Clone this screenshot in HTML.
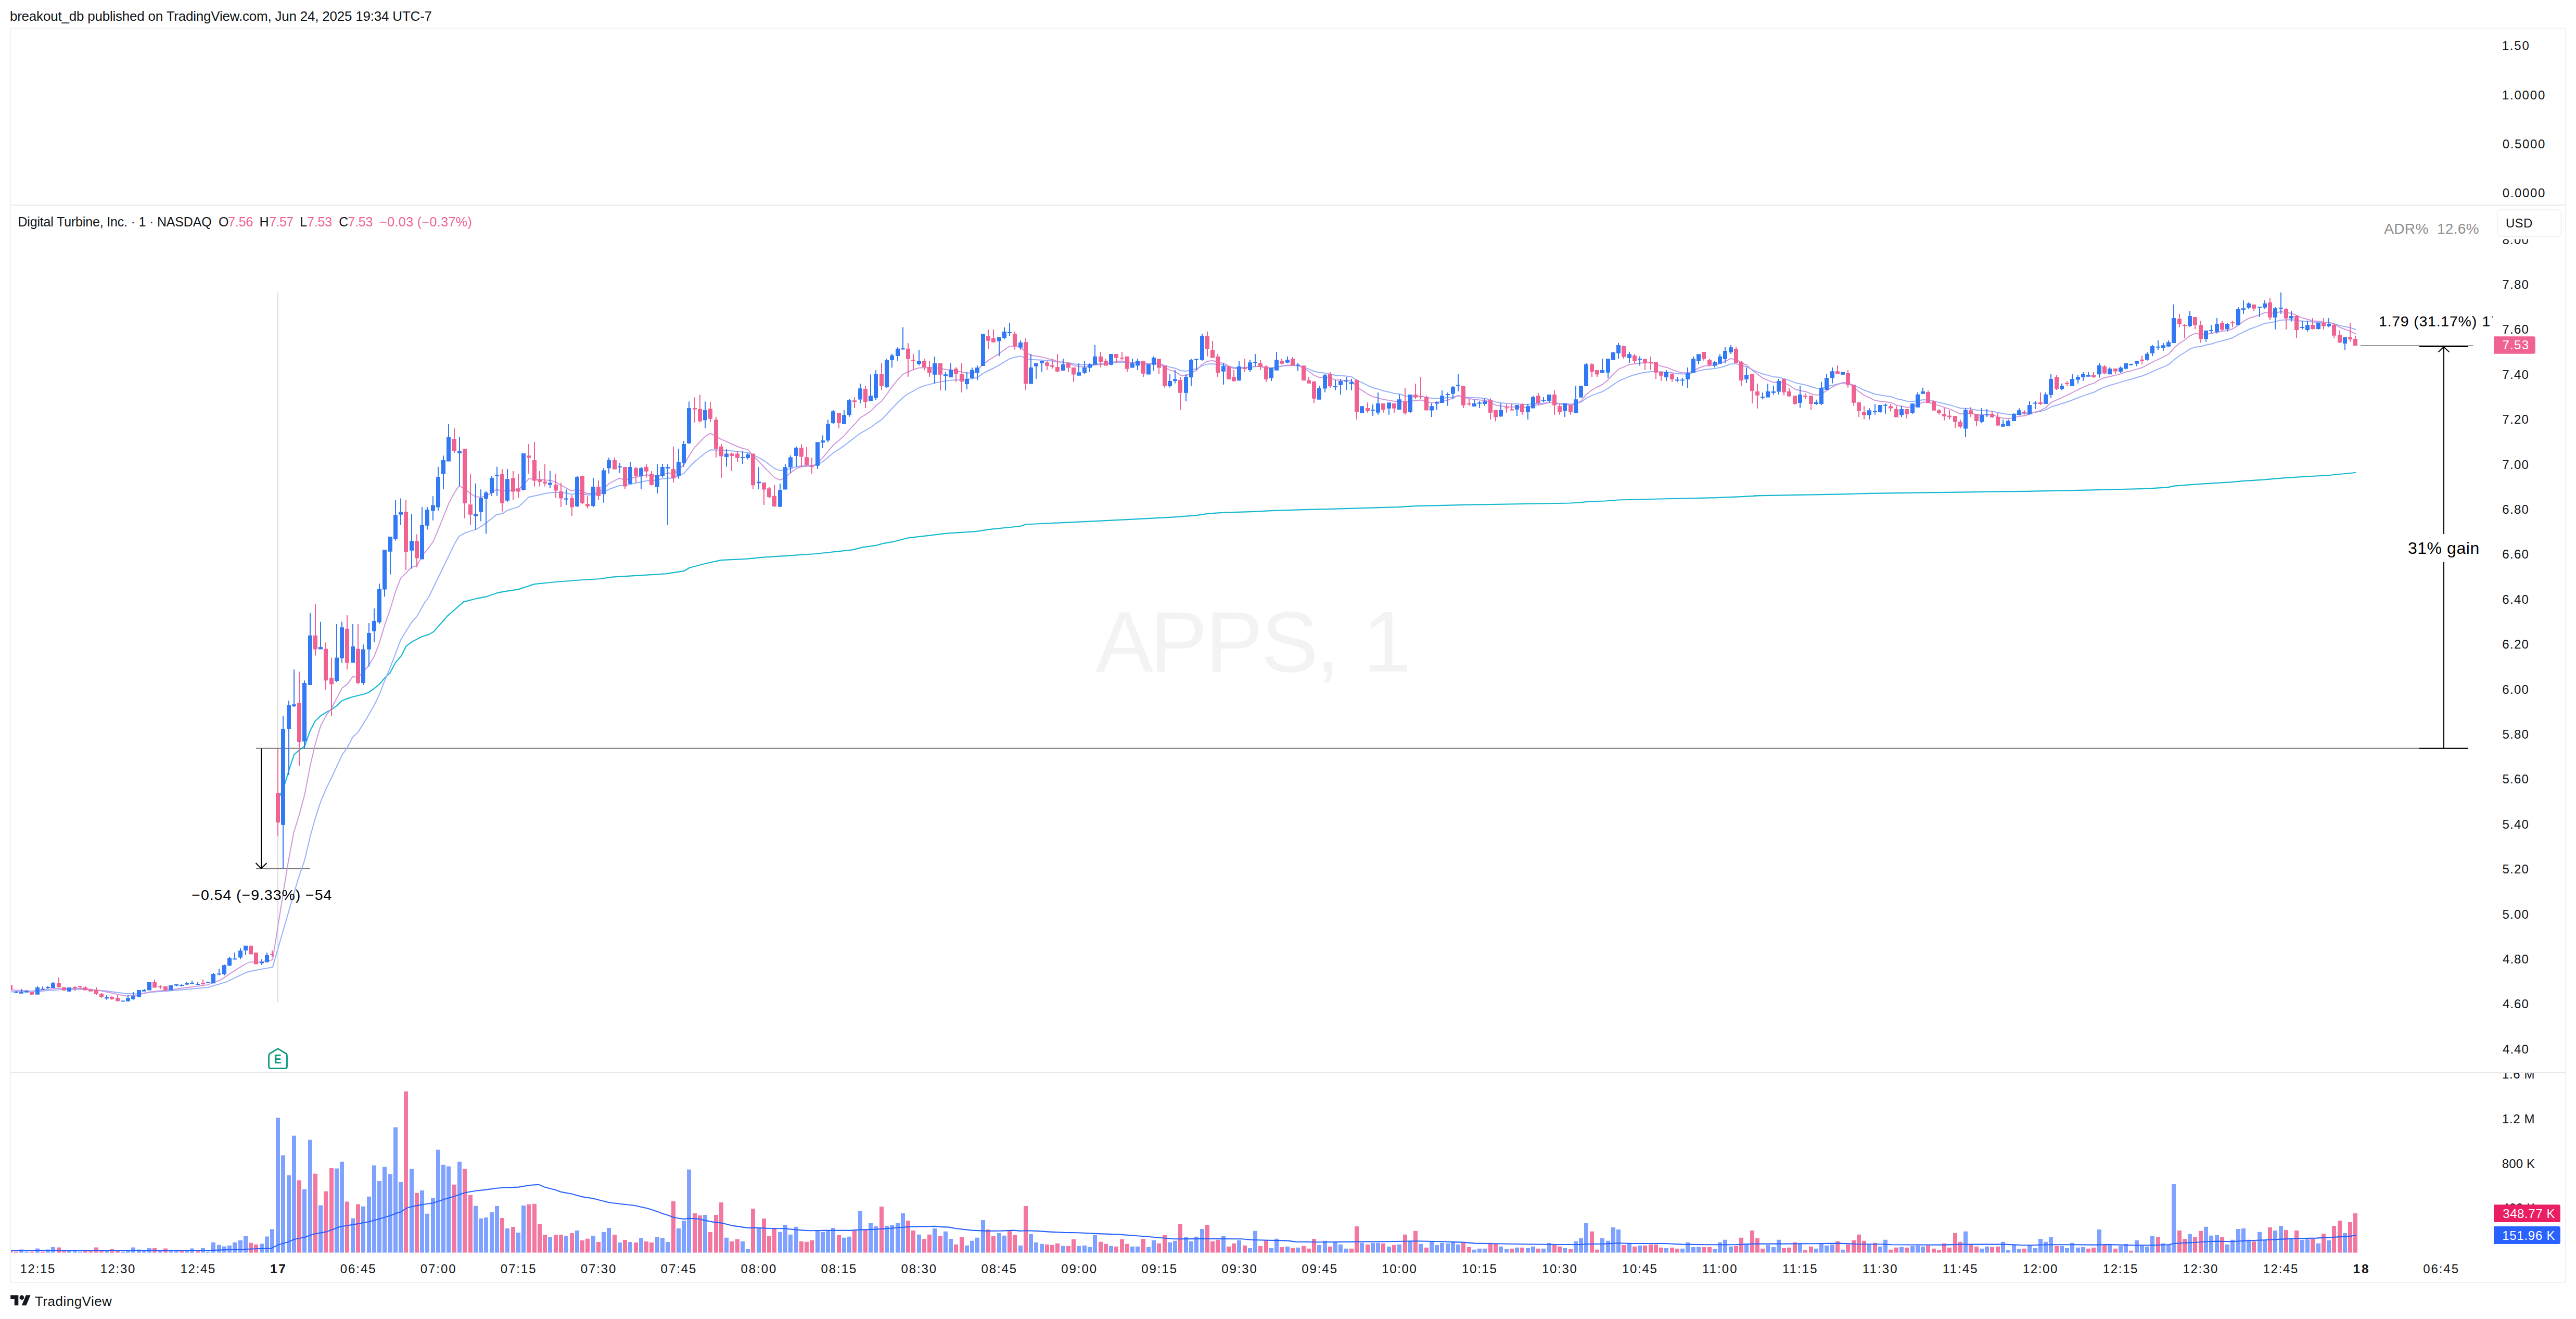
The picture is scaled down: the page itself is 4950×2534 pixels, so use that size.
<!DOCTYPE html><html><head><meta charset="utf-8"><title>APPS chart</title><style>html,body{margin:0;padding:0;background:#fff;overflow:hidden}svg{display:block}text{font-family:"Liberation Sans",sans-serif;white-space:pre}</style></head><body><svg width="4950" height="2534" viewBox="0 0 4950 2534"><defs><clipPath id="cm"><rect x="21" y="395" width="4769" height="1665"/></clipPath><clipPath id="cv"><rect x="21" y="2062" width="4769" height="401"/></clipPath><clipPath id="ca"><rect x="4791" y="459.5" width="138" height="1600"/></clipPath><clipPath id="cva"><rect x="4791" y="2062" width="138" height="400"/></clipPath></defs><rect width="4950" height="2534" fill="#fff"/><text x="18.9" y="40.0" fill="#131518" style="font-size:26px;letter-spacing:-0.21px;">breakout_db published on TradingView.com, Jun 24, 2025 19:34 UTC-7</text><rect x="20" y="54" width="4910" height="2410" fill="none" stroke="#f2f2f3" stroke-width="2"/><path d="M21 394H4930M21 2061H4930" fill="none" stroke="#e8e8e9" stroke-width="2"/><text x="2105.2 2209.8 2316.6 2422.9 2528.6 2580.0 2618.9" y="1289.8" fill="#f3f3f4" style="font-size:166px">APPS, 1</text><g clip-path="url(#cm)"><line x1="534" y1="562" x2="534" y2="1925" stroke="#dcdcdc" stroke-width="2"/><line x1="492" y1="1437.8" x2="4742" y2="1437.8" stroke="#7b7b7b" stroke-width="2"/><line x1="492" y1="1669" x2="595.7" y2="1669" stroke="#7b7b7b" stroke-width="2"/><line x1="4536" y1="663.9" x2="4752.6" y2="663.9" stroke="#9b9b9b" stroke-width="2"/><polyline fill="none" stroke="#14b8d0" stroke-width="2.2" stroke-linejoin="round" stroke-linecap="round" points="534.2,1535.2 544.4,1515.8 554.6,1481.8 564.8,1450.3 575.4,1440.6 585.6,1433.3 595.8,1404.2 606,1384.8 616.2,1375.1 626.4,1368.8 637.1,1363 647.2,1355.7 657.4,1346 667.6,1342.1 677.8,1338.7 688,1336.3 698.7,1333.8 708.9,1330 719.1,1322.7 729.2,1314.4 739.4,1302.3 749.6,1292.6 759.8,1273.2 771.5,1259.6 780.2,1241.7 790.9,1233.4 810.3,1223.2 823.9,1218.9 832.8,1213.9 860.6,1182.6 890.8,1156.4 916.1,1149.8 936.3,1145.8 956.4,1138.7 974.1,1135.7 996.8,1132.1 1027.1,1122.1 1062.4,1118.5 1112.9,1114.5 1153.3,1112 1178.5,1108.4 1213.8,1106.4 1279.4,1102.4 1314.8,1096.8 1324.9,1090.8 1355.1,1082.7 1385.4,1076.1 1435.9,1073.6 1466.2,1070.6 1506.5,1068.1 1567.1,1064 1637.7,1056.4 1657.9,1051.4 1683.2,1047.9 1698.3,1043.8 1718.5,1040.3 1743.7,1033.7 1769,1030.7 1819.4,1024.7 1874.9,1021.1 1900.2,1017.1 1960.7,1011 1970.8,1007.5 2011.2,1005.5 2100,1001.4 2180.9,997.3 2256.6,993.3 2297,990.3 2322.2,986.7 2352.5,984.7 2403,983.2 2453.5,980.7 2599.8,976.6 2685.6,974.1 2720.9,972.1 2826.9,969.6 2963.2,967.5 3018.7,966.5 3033.8,965.5 3054,963.5 3084.3,962.5 3109.5,960.5 3190.3,958.5 3291.2,956.4 3341.7,954.4 3380,952.4 3370.3,952.4 3541.9,949.4 3592.3,947.9 3743.7,945.8 3895.1,943.8 4021.3,941.3 4122.2,938.8 4165.1,936.3 4177.7,933.7 4223.2,930.2 4288.8,926.2 4309,924.1 4349.3,921.6 4389.7,918.1 4475.5,913 4526,908"/><polyline fill="none" stroke="#96b0fb" stroke-width="2.0" stroke-linejoin="round" stroke-linecap="round" points="20,1905.5 80.6,1904 110.8,1901.4 161.3,1900.6 201.7,1903.4 242,1908.7 262.2,1909.5 292.5,1906.1 332.9,1903 399.5,1897 433.8,1886.9 474.2,1867.7 482.3,1865.7 523.8,1858 572.5,1690 585.6,1651.6 595.8,1608 606,1571.6 616.2,1540.1 626.4,1515.8 637.1,1494 647.2,1472.1 657.4,1450.3 667.6,1435.7 677.8,1416.3 688,1406.6 698.7,1389.6 708.9,1372.7 719.1,1354.7 729.2,1333.8 739.4,1307.2 749.6,1282.9 759.8,1256.2 770,1229.5 780.2,1212.5 790.9,1195.6 800.6,1184.9 815.1,1159.2 823.9,1147 851.6,1090 862.9,1066.7 873,1045.6 882.2,1030.3 893.7,1023.7 903.8,1020.4 914.1,1017.4 924.5,1011.5 934.6,1004.4 944.9,996.2 953.8,988.7 965.4,986.8 975.7,980.2 986,976.9 996.1,973.9 1006.5,964.5 1016.1,955.1 1026.9,952.7 1037.3,950.4 1047.6,948 1057.7,946.4 1068.1,945.7 1078.4,946.4 1088.5,947.3 1098.4,949.7 1109.2,947.3 1119.3,948.7 1128.9,950.9 1140,949.7 1150.1,949.7 1160.4,945 1170.8,939.8 1180.9,936.3 1190,932.8 1201.6,932.8 1211.7,930.4 1222,928.1 1232.3,925.7 1242.7,923.4 1252.8,923.8 1263.1,921.7 1273.5,919.8 1283.6,918.2 1293.9,918.7 1300,915.5 1314.3,909.4 1324.6,897.3 1334.9,886.7 1345.2,878.5 1355.5,870 1365.5,864.2 1375.8,864.5 1386.1,864.8 1396.5,865.7 1406.8,866.3 1417.1,867.5 1427.1,868.5 1437.4,869.4 1447.7,874.5 1458,879.1 1468.4,885.1 1478.7,892.7 1488.7,900.3 1499,903.9 1509.3,902.7 1519.6,900.3 1529.9,896.7 1539.9,895.1 1550.3,894.8 1560.6,894.8 1570.9,892.7 1581.2,886.7 1591.2,878.5 1601.5,870 1611.8,863.3 1622.1,856.3 1632.5,848.1 1642.5,840.5 1652.8,832.7 1663.1,826.9 1673.4,820.8 1683.7,813.2 1694,806.3 1704,795.7 1714.4,784.4 1724.7,773.8 1735,763.8 1745.3,756.2 1755.3,751.1 1765.6,745 1775.9,741.1 1786.2,738.6 1796.6,735.6 1806.6,733.5 1816.9,732 1827.2,730.4 1837.5,729.8 1847.8,729.8 1857.8,728.9 1868.1,727.4 1878.5,725.3 1880,723.9 1889.1,717.4 1899.3,712 1909.6,707 1919.8,701.7 1930.2,695.2 1940.4,689.1 1950.7,686.3 1960.9,683.9 1971.3,688.7 1981.5,690.7 1991.7,691.3 2002,691.7 2012.2,692.8 2022.6,693.5 2032.8,695.2 2043,695.7 2053.3,696.7 2063.7,698.9 2073.9,700.4 2084.1,701.1 2094.3,700.7 2104.6,699.6 2115,698.9 2125.2,698.9 2135.4,697.8 2145.7,696.3 2155.9,695.7 2166.3,696.3 2176.5,696.7 2186.7,696.3 2197,697.8 2207.4,698.5 2217.6,697.8 2227.8,698.5 2238,702.2 2248.3,705.4 2258.5,707.6 2268.9,712 2279.1,713 2289.3,710.9 2299.6,708.3 2310,702.6 2320.2,699.6 2330.4,698.9 2340.7,700.4 2350.9,701.1 2361.3,703.9 2371.5,706.1 2381.7,705.9 2392,705.9 2402.2,705 2412.6,704.3 2420,703.3 2433,705.9 2443.3,706.3 2453.7,704.8 2463.9,703.3 2474.1,702.2 2484.3,702.2 2494.6,702.2 2504.8,704.8 2515.2,709.1 2525.4,713.5 2535.7,715.7 2545.9,716.7 2556.3,718.9 2566.5,721.1 2576.7,721.7 2587,722.6 2597.2,723.9 2607.6,730.9 2617.8,735.2 2628,740.7 2638.3,745 2648.7,747.8 2658.9,751.1 2669.1,753.3 2679.3,755.9 2689.6,757 2700,760.7 2710.2,760.9 2720.4,761.3 2730.7,761.3 2740.9,763.5 2751.3,765 2761.5,765.2 2771.7,765 2782,764.1 2792.4,762.8 2802.6,760.2 2812.8,762.4 2823,763.5 2833.3,764.1 2843.7,764.6 2853.9,765.2 2864.1,768.9 2874.3,772.2 2884.6,773.9 2895,775 2905.2,775.9 2915.4,776.1 2925.7,777 2935.9,777 2946.3,775.4 2956.5,774.8 2960,775.4 2977,773.3 2987.2,773.9 2997.6,775 3007.8,775.4 3018,776.5 3028.3,775.4 3038.5,772.2 3048.9,764.6 3059.1,759.6 3069.3,755.9 3079.6,752.2 3089.8,746.1 3100.2,739.1 3110.4,732 3120.7,727.6 3130.9,723.3 3141.3,720 3151.5,717.2 3161.7,715.2 3172,713.9 3182.2,714.1 3192.6,714.6 3202.8,715.2 3213,716.3 3223.3,717.8 3233.5,718.5 3243.9,718.3 3254.1,715.7 3264.3,712.4 3274.6,710.2 3285,709.1 3295.2,708 3305.4,705.9 3315.7,703 3325.9,699.3 3336.3,698.9 3346.5,702 3356.7,704.8 3367,710.2 3377.2,714.6 3387.6,718.5 3397.8,721.1 3408,723.9 3418.3,724.8 3428.5,727.6 3438.9,730.9 3449.1,735.2 3459.3,737.4 3469.6,739.6 3480,742.8 3490.2,745.7 3500,745.9 3510.7,742.6 3520.9,740.4 3531.1,737.8 3541.3,736.1 3551.7,736.5 3562,740 3572.2,744.8 3582.6,749.8 3592.8,753.5 3603,757.2 3613.3,758.9 3623.5,760.7 3633.9,762.2 3644.1,765.9 3654.3,768 3664.6,770.9 3675,771.3 3685.2,769.8 3695.4,768 3705.7,768.7 3715.9,770.9 3726.1,773 3736.5,775.7 3746.7,778 3757,781.1 3767.2,784.3 3777.6,784.6 3787.8,785.7 3798,787.8 3808.3,788.7 3818.5,789.3 3828.9,790 3839.1,792.6 3849.3,794.8 3859.6,795.9 3869.8,795.9 3880.2,795.2 3890.4,794.8 3900.7,793.7 3910.9,792 3921.3,790.4 3931.5,787.2 3941.7,781.7 3952,778.5 3962.2,775.2 3972.6,772 3982.8,768.3 3993,764.3 4003.3,760.4 4013.5,756.7 4023.9,753.5 4034.1,748 4040,745.4 4054.6,740 4064.8,737.4 4075.2,734.1 4085.4,730.9 4095.7,728.5 4105.9,725.2 4116.1,722.2 4126.5,718.3 4136.7,713.5 4147,709.1 4157.2,704.8 4167.6,700.2 4177.8,691.1 4188,683.5 4198.3,677 4208.5,670.4 4218.9,666.7 4229.1,665.7 4239.3,662.8 4249.6,660.7 4259.8,657.4 4270.2,654.8 4280.4,652 4290.7,648.7 4300.9,642.8 4311.3,637.8 4321.5,632.8 4331.7,629.1 4342,625.4 4352.2,621.1 4362.6,620 4372.8,617.6 4383,615 4393.3,614.6 4403.7,614.3 4413.9,615.7 4424.1,616.7 4434.3,617.6 4444.6,618.7 4455,618.9 4465.2,619.3 4475.4,619.8 4485.7,622.2 4495.9,625.2 4506.3,627.6 4516.5,629.6 4526.7,633"/><polyline fill="none" stroke="#cf97da" stroke-width="2.0" stroke-linejoin="round" stroke-linecap="round" points="20,1901.6 60.4,1904 110.8,1898.6 161.3,1899 191.6,1903 242,1913.5 262.2,1912.1 288.5,1905.5 322.8,1902 399.5,1891.9 423.7,1882.9 454,1862.7 474.2,1850.6 482.3,1847.9 494.4,1848.9 523.8,1844.1 548.3,1690 554.6,1651.6 564.8,1598.3 575.4,1564.3 585.6,1525.5 595.8,1472.1 606,1428.5 616.2,1394.5 626.4,1375.1 637.1,1360.5 647.2,1341.1 657.4,1321.7 667.6,1314.4 677.8,1299.9 688,1301.3 698.7,1290.2 708.9,1278 719.1,1261.1 729.2,1234.4 739.4,1200.4 749.6,1171.3 759.8,1137.3 770,1110.7 780.2,1100.9 790.5,1090 801.1,1086.7 811.4,1066.7 821.8,1055 832.1,1040.9 842.2,1017.4 852.5,991.5 862.9,965.7 873,946.9 882.2,933.2 893.7,939.8 903.8,948 914.1,954.4 924.5,955.1 934.6,952.7 944.9,946.4 953.8,940.5 965.4,943.3 975.7,942.2 986,941.5 996.1,940.5 1006.5,930.4 1016.1,919.8 1026.9,920.5 1037.3,921 1047.6,922.2 1057.7,922.9 1068.1,926.2 1078.4,932.3 1088.5,937.9 1098.4,943.3 1109.2,939.8 1119.3,944.5 1128.9,948.5 1140,947.3 1150.1,947.3 1160.4,937.9 1170.8,928.8 1180.9,923.4 1190,918.7 1201.6,922.2 1211.7,918.7 1222,917 1232.3,914.4 1242.7,912.1 1252.8,914.4 1263.1,914.4 1273.5,911.6 1283.6,908.6 1293.9,909.7 1300,906.4 1314.3,892.7 1324.6,874.5 1334.9,859.4 1345.2,848.7 1355.5,838.1 1365.5,832.4 1375.8,838.1 1386.1,844.2 1396.5,848.7 1406.8,853.3 1417.1,857.8 1427.1,861.5 1437.4,863.9 1447.7,876 1458,886.7 1468.4,897.3 1478.7,907.9 1488.7,917.9 1499,922.1 1509.3,917 1519.6,907.9 1529.9,900.3 1539.9,896.7 1550.3,895.8 1560.6,895.8 1570.9,889.7 1581.2,879.1 1591.2,866.9 1601.5,854.8 1611.8,846.3 1622.1,837.2 1632.5,825.1 1642.5,814.8 1652.8,802.6 1663.1,796.6 1673.4,789.6 1683.7,779 1694,770.8 1704,757.7 1714.4,742.6 1724.7,729.8 1735,719.2 1745.3,713.8 1755.3,710.1 1765.6,706.8 1775.9,706.2 1786.2,706.8 1796.6,706.8 1806.6,707.7 1816.9,709.8 1827.2,710.7 1837.5,712.2 1847.8,714.7 1857.8,716.8 1868.1,716.2 1878.5,713.8 1880,708.7 1889.1,700 1899.3,692.4 1909.6,685.9 1919.8,679.3 1930.2,671.7 1940.4,665.2 1950.7,664.8 1960.9,666.3 1971.3,677.2 1981.5,682.6 1991.7,684.3 2002,685.9 2012.2,688.7 2022.6,690.9 2032.8,695 2043,695.7 2053.3,697.4 2063.7,702.2 2073.9,704.3 2084.1,704.8 2094.3,703.9 2104.6,701.1 2115,700 2125.2,699.3 2135.4,696.7 2145.7,694.1 2155.9,693.5 2166.3,695.7 2176.5,696.7 2186.7,695.7 2197,698.9 2207.4,699.6 2217.6,697.8 2227.8,698.9 2238,706.1 2248.3,710.9 2258.5,714.1 2268.9,721.3 2279.1,721.7 2289.3,716.3 2299.6,710.9 2310,700 2320.2,693.9 2330.4,692.8 2340.7,696.7 2350.9,697.8 2361.3,703.3 2371.5,708.3 2381.7,707.6 2392,707.2 2402.2,705.4 2412.6,703.9 2420,703.7 2433,707 2443.3,707.4 2453.7,705.2 2463.9,703.3 2474.1,701.5 2484.3,701.5 2494.6,702.2 2504.8,707 2515.2,713.5 2525.4,721.1 2535.7,725.4 2545.9,724.3 2556.3,726.5 2566.5,729.8 2576.7,730.4 2587,730.9 2597.2,731.5 2607.6,743.9 2617.8,750.4 2628,757 2638.3,762.4 2648.7,764.6 2658.9,767.8 2669.1,768.9 2679.3,771.1 2689.6,770.7 2700,772.2 2710.2,771.1 2720.4,769.6 2730.7,768.5 2740.9,772.2 2751.3,773.9 2761.5,773.3 2771.7,771.1 2782,768.9 2792.4,764.6 2802.6,759.8 2812.8,763.5 2823,765.7 2833.3,767.4 2843.7,768.5 2853.9,768.9 2864.1,773.3 2874.3,778.3 2884.6,780.2 2895,780.9 2905.2,782 2915.4,781.5 2925.7,783 2935.9,782.6 2946.3,778.7 2956.5,777.6 2960,777.6 2977,773.3 2987.2,774.3 2997.6,776.5 3007.8,777 3018,777.6 3028.3,776.5 3038.5,770 3048.9,757 3059.1,749.3 3069.3,743.5 3079.6,738.5 3089.8,729.8 3100.2,718.9 3110.4,709.1 3120.7,704.8 3130.9,700.4 3141.3,698.9 3151.5,697.6 3161.7,697.2 3172,696.7 3182.2,699.3 3192.6,703.7 3202.8,705.9 3213,710.2 3223.3,713.9 3233.5,716.3 3243.9,716.3 3254.1,712.4 3264.3,707 3274.6,703.3 3285,702.2 3295.2,701.5 3305.4,698.3 3315.7,693.9 3325.9,688.9 3336.3,690.7 3346.5,697.2 3356.7,701.5 3367,711.3 3377.2,718.9 3387.6,726.5 3397.8,730.9 3408,734.8 3418.3,734.8 3428.5,735.2 3438.9,740.7 3449.1,747.8 3459.3,750.4 3469.6,752.2 3480,756.5 3490.2,759.1 3500,756.7 3510.7,750.2 3520.9,743.7 3531.1,738.7 3541.3,735 3551.7,736.1 3562,743.7 3572.2,752.4 3582.6,759.6 3592.8,764.3 3603,769.3 3613.3,770.9 3623.5,772 3633.9,773.7 3644.1,778.5 3654.3,780.2 3664.6,782.8 3675,781.7 3685.2,777.4 3695.4,772.6 3705.7,773 3715.9,775.7 3726.1,779.1 3736.5,782.8 3746.7,786.1 3757,790.4 3767.2,795.4 3777.6,794.3 3787.8,794.3 3798,796.5 3808.3,797 3818.5,797 3828.9,796.5 3839.1,800.9 3849.3,803.5 3859.6,804.1 3869.8,802.4 3880.2,799.8 3890.4,798.7 3900.7,795.4 3910.9,791.5 3921.3,788.7 3931.5,782.8 3941.7,773 3952,768.3 3962.2,763.9 3972.6,758.9 3982.8,753.9 3993,748.7 4003.3,743.7 4013.5,739.3 4023.9,736.1 4034.1,729.6 4040,727 4054.6,723.3 4064.8,721.1 4075.2,718.3 4085.4,714.6 4095.7,712.4 4105.9,709.1 4116.1,706.3 4126.5,700.9 4136.7,695.4 4147,690.7 4157.2,685.7 4167.6,680.2 4177.8,668.3 4188,659.6 4198.3,653 4208.5,644.8 4218.9,640.4 4229.1,642.8 4239.3,642.2 4249.6,640.4 4259.8,638.3 4270.2,636.3 4280.4,635 4290.7,631.7 4300.9,624.8 4311.3,617.2 4321.5,611.3 4331.7,608.5 4342,604.8 4352.2,600.4 4362.6,602 4372.8,600.9 4383,598.7 4393.3,600.4 4403.7,602 4413.9,606.3 4424.1,610.7 4434.3,613.5 4444.6,616.5 4455,617.2 4465.2,618.7 4475.4,619.3 4485.7,623 4495.9,628.7 4506.3,632.8 4516.5,636.3 4526.7,641.7"/><path fill="#3179f5" d="M30 1904h2V1908.1h-2zM27 1905.1h8V1907.1h-8zM40 1900h2V1908.7h-2zM37 1906.1h8V1908.7h-8zM50 1902h2V1906.7h-2zM47 1904h8V1906.7h-8zM71 1895h2V1910.7h-2zM68 1897h8V1910.7h-8zM81 1895h2V1901h-2zM78 1899.4h8V1901.4h-8zM91 1894.6h2V1900h-2zM88 1896h8V1898h-8zM101 1886.9h2V1898h-2zM98 1888.9h8V1898h-8zM132 1897h2V1905.7h-2zM129 1897h8V1904.7h-8zM204 1912.1h2V1920.8h-2zM201 1915.2h8V1918.2h-8zM235 1922.2h2V1924.6h-2zM232 1922.2h8V1924.2h-8zM245 1912.1h2V1924.6h-2zM242 1917.2h8V1923.6h-8zM255 1906.1h2V1920.8h-2zM252 1914.1h8V1919.6h-8zM266 1902h2V1915.6h-2zM263 1902h8V1915.6h-8zM276 1900h2V1904.7h-2zM273 1902h8V1904.7h-8zM286 1886.9h2V1902.6h-2zM283 1886.9h8V1902.6h-8zM327 1892.9h2V1902.6h-2zM324 1892.9h8V1902.6h-8zM338 1890.9h2V1895h-2zM335 1890.9h8V1893.4h-8zM348 1890.9h2V1895h-2zM345 1892.1h8V1894.1h-8zM358 1886.9h2V1892.5h-2zM355 1888.9h8V1891.5h-8zM368 1883.9h2V1890.9h-2zM365 1887.9h8V1889.9h-8zM379 1886.9h2V1891.3h-2zM376 1889.9h8V1891.9h-8zM399 1886.3h2V1887.7h-2zM396 1886.3h8V1888.3h-8zM409 1869.1h2V1889.3h-2zM406 1871.1h8V1889.3h-8zM420 1861.1h2V1873.8h-2zM417 1870.3h8V1872.3h-8zM430 1853h2V1873.8h-2zM427 1854.2h8V1871.8h-8zM440 1839.1h2V1856h-2zM437 1841.1h8V1855h-8zM450 1830h2V1843.5h-2zM447 1841.5h8V1843.5h-8zM461 1821.9h2V1842.9h-2zM458 1826.3h8V1839.5h-8zM471 1816.8h2V1834.8h-2zM468 1816.8h8V1825.9h-8zM502 1842.9h2V1854h-2zM499 1848.1h8V1850.6h-8zM512 1830h2V1848.7h-2zM509 1834.8h8V1848.7h-8zM543 1376.1h2V1668.6h-2zM540 1400.3h8V1584.7h-8zM554 1346h2V1489.1h-2zM551 1354.7h8V1400.3h-8zM564 1286.3h2V1358.1h-2zM561 1353.3h8V1356.6h-8zM584 1307.2h2V1438.2h-2zM581 1312h8V1424.6h-8zM595 1177.6h2V1315.9h-2zM592 1220.8h8V1315.9h-8zM615 1194.6h2V1247.5h-2zM612 1243.1h8V1247.5h-8zM646 1199h2V1310.6h-2zM643 1263.5h8V1308.1h-8zM656 1194.6h2V1273.2h-2zM653 1205.3h8V1264.5h-8zM677 1199h2V1273.2h-2zM674 1241.7h8V1273.2h-8zM697 1238.3h2V1315.9h-2zM694 1247.5h8V1312h-8zM708 1197h2V1280.5h-2zM705 1215.9h8V1247.5h-8zM718 1168.9h2V1233.4h-2zM715 1193.1h8V1212.5h-8zM728 1121.3h2V1198h-2zM725 1131h8V1195.6h-8zM738 1056.1h2V1146.2h-2zM735 1056.1h8V1132.5h-8zM749 1031h2V1103.4h-2zM746 1031h8V1059.7h-8zM759 961h2V1038.5h-2zM756 989.2h8V1035.7h-8zM769 957.4h2V1008.4h-2zM766 983.3h8V988.7h-8zM790 987.3h2V1092.6h-2zM787 1039.2h8V1057.8h-8zM810 973.9h2V1074.5h-2zM807 1009.1h8V1074.5h-8zM820 973.9h2V1017.4h-2zM817 979.3h8V1009.8h-8zM831 953.2h2V999.7h-2zM828 970.4h8V981.6h-8zM841 896.8h2V980.9h-2zM838 916.3h8V974.6h-8zM851 875.2h2V939.8h-2zM848 884.1h8V910.7h-8zM861 814.1h2V886.5h-2zM858 839.9h8V886.5h-8zM882 839.9h2V933.9h-2zM879 866.3h8V870.7h-8zM913 928.8h2V1017.4h-2zM910 987.3h8V991.5h-8zM923 940.3h2V1001.4h-2zM920 957h8V983.5h-8zM933 944h2V1025.6h-2zM930 946.2h8V957.9h-8zM944 914.4h2V952.7h-2zM941 918.2h8V946.9h-8zM954 896.8h2V952.7h-2zM951 912.3h8V915.1h-8zM974 901h2V963.8h-2zM971 920.3h8V961.7h-8zM1005 871h2V942.2h-2zM1002 871h8V941h-8zM1056 905h2V937.5h-2zM1053 927.4h8V931.6h-8zM1087 940.3h2V969.9h-2zM1084 957.4h8V959.8h-8zM1108 914h2V973.9h-2zM1105 916.3h8V972.7h-8zM1139 918.2h2V973.9h-2zM1136 935.1h8V972h-8zM1159 899.2h2V965.7h-2zM1156 903.4h8V949.2h-8zM1169 879.2h2V909.7h-2zM1166 884.1h8V899.4h-8zM1190 890h2V908.8h-2zM1187 895.9h8V898h-8zM1210 888.1h2V930.4h-2zM1207 897h8V929.5h-8zM1231 897h2V939.8h-2zM1228 899.2h8V914.7h-8zM1262 892.1h2V948h-2zM1259 912.1h8V935.6h-8zM1272 892.1h2V917.5h-2zM1269 897h8V914.7h-8zM1282 892.1h2V1008.4h-2zM1279 897h8V899.9h-8zM1303 862.3h2V919.8h-2zM1300 888.1h8V914.7h-8zM1313 847h2V896.8h-2zM1310 852.9h8V890h-8zM1323 771.4h2V852.7h-2zM1320 784.1h8V851.8h-8zM1354 771.4h2V823h-2zM1351 788.1h8V807.2h-8zM1395 862.4h2V896.7h-2zM1392 871.5h8V877.9h-8zM1426 866.3h2V891.8h-2zM1423 877.9h8V879.9h-8zM1436 870.9h2V882.7h-2zM1433 873h8V879.7h-8zM1457 897.3h2V939.7h-2zM1454 925.5h8V928.2h-8zM1498 929.1h2V973.7h-2zM1495 941.3h8V973.7h-8zM1508 892.1h2V940.6h-2zM1505 897.3h8V940.6h-8zM1518 875.1h2V908.8h-2zM1515 878.5h8V897.9h-8zM1529 857.8h2V897.3h-2zM1526 860h8V876h-8zM1570 849.3h2V900.9h-2zM1567 849.3h8V894.8h-8zM1580 836.6h2V860.9h-2zM1577 846.3h8V850.3h-8zM1590 806.3h2V849.3h-2zM1587 814.2h8V846.3h-8zM1600 788.1h2V814.2h-2zM1597 790.2h8V812.9h-8zM1621 788.1h2V814.8h-2zM1618 797.2h8V814.8h-8zM1631 766.8h2V800.8h-2zM1628 769h8V797.2h-8zM1652 737.1h2V775h-2zM1649 746.2h8V767.4h-8zM1672 719.2h2V770.8h-2zM1669 760.2h8V770.5h-8zM1682 711.3h2V769h-2zM1679 718.9h8V764.4h-8zM1703 688.9h2V745h-2zM1700 691.9h8V743.2h-8zM1713 679.5h2V706.2h-2zM1710 682.8h8V691.9h-8zM1724 667.3h2V693.1h-2zM1721 669.8h8V684h-8zM1734 628.8h2V672.2h-2zM1731 669.2h8V671.3h-8zM1765 672.2h2V702.2h-2zM1762 693.1h8V699.2h-8zM1795 684.9h2V737.1h-2zM1792 698h8V719.8h-8zM1816 714.7h2V750.2h-2zM1813 719.2h8V721.9h-8zM1826 698h2V725h-2zM1823 710.7h8V725h-8zM1857 714.7h2V748h-2zM1854 728h8V738h-8zM1867 706.2h2V728h-2zM1864 710.7h8V725.9h-8zM1877 702.2h2V730.4h-2zM1874 706.2h8V715.9h-8zM1888 641h2V703.1h-2zM1885 641.9h8V703.1h-8zM1919 647.2h2V684.3h-2zM1916 647.2h8V655.4h-8zM1929 628.9h2V651.7h-2zM1926 637h8V648.9h-8zM1939 620h2V645.7h-2zM1936 638h8V640h-8zM1960 653.9h2V671.7h-2zM1957 658h8V667.8h-8zM1980 680h2V737.6h-2zM1977 706.1h8V737.6h-8zM1990 697.8h2V727.8h-2zM1987 697.8h8V703.7h-8zM2001 693h2V714.8h-2zM1998 693h8V697.8h-8zM2042 689.1h2V712h-2zM2039 700h8V712h-8zM2072 697.8h2V721.7h-2zM2069 715.2h8V721.7h-8zM2083 693h2V718.9h-2zM2080 706.1h8V716.3h-8zM2093 697.8h2V714.8h-2zM2090 700h8V706.5h-8zM2103 663h2V700.7h-2zM2100 684.8h8V700.7h-8zM2134 680h2V701.7h-2zM2131 680h8V700.7h-8zM2175 689.1h2V706.5h-2zM2172 697.8h8V706.5h-8zM2185 689.1h2V710.9h-2zM2182 693h8V702.6h-8zM2206 700h2V719.6h-2zM2203 700h8V719.6h-8zM2216 684.8h2V712.6h-2zM2213 687h8V700.7h-8zM2247 718.9h2V744.6h-2zM2244 732h8V741.7h-8zM2257 710.9h2V736.5h-2zM2254 728.3h8V732h-8zM2278 718.9h2V771.1h-2zM2275 723.9h8V754.8h-8zM2288 689.1h2V740.9h-2zM2285 690.9h8V725h-8zM2298 689.1h2V710.9h-2zM2295 689.6h8V691.6h-8zM2309 640.9h2V693h-2zM2306 646.1h8V691.7h-8zM2350 697.8h2V738.7h-2zM2347 703.3h8V713.7h-8zM2380 693.9h2V731.5h-2zM2377 703.9h8V731.1h-8zM2401 690.9h2V714.8h-2zM2398 696.3h8V710.9h-8zM2411 680h2V704.3h-2zM2408 695h8V697h-8zM2442 707h2V732h-2zM2439 707h8V726.5h-8zM2452 676.1h2V711.7h-2zM2449 691.3h8V711.7h-8zM2473 684.8h2V697.8h-2zM2470 691.1h8V696.7h-8zM2493 697.8h2V713h-2zM2490 700.4h8V702.6h-8zM2534 741.1h2V767.8h-2zM2531 746.1h8V767.8h-8zM2545 718.9h2V753.7h-2zM2542 721.1h8V746.5h-8zM2565 729.8h2V750h-2zM2562 741.3h8V743.9h-8zM2575 728h2V758h-2zM2572 732h8V740h-8zM2586 723.9h2V748.9h-2zM2583 730.9h8V732.9h-8zM2596 728h2V750h-2zM2593 734.1h8V737.4h-8zM2616 780.2h2V793.5h-2zM2613 780.2h8V793.5h-8zM2637 777h2V798.9h-2zM2634 787h8V789h-8zM2647 754.1h2V796.7h-2zM2644 775h8V792.8h-8zM2668 773.3h2V796.7h-2zM2665 773.3h8V784.8h-8zM2688 757.4h2V787h-2zM2685 767.2h8V787h-8zM2709 758h2V792.8h-2zM2706 758h8V791.7h-8zM2750 775h2V800.9h-2zM2747 780.2h8V788.5h-8zM2760 771.1h2V787.8h-2zM2757 772.8h8V775.4h-8zM2770 750h2V773.9h-2zM2767 760.2h8V773.9h-8zM2781 754.1h2V779.8h-2zM2778 757h8V759h-8zM2791 741.1h2V766.7h-2zM2788 743.3h8V756.5h-8zM2801 718.9h2V752h-2zM2798 739.6h8V741.7h-8zM2832 767.2h2V780.9h-2zM2829 775h8V780.9h-8zM2842 771.1h2V783.7h-2zM2839 773.3h8V775.4h-8zM2852 765.2h2V779.8h-2zM2849 771.1h8V775.9h-8zM2883 775h2V800.9h-2zM2880 787.8h8V800h-8zM2914 778h2V798.9h-2zM2911 778h8V786.7h-8zM2935 775.9h2V805.9h-2zM2932 780.2h8V791.7h-8zM2945 760.2h2V784.6h-2zM2942 762.8h8V784.6h-8zM2965 763h2V772.8h-2zM2962 768.5h8V770.5h-8zM2976 758h2V772.2h-2zM2973 758h8V770.7h-8zM3006 775h2V800.9h-2zM3003 775h8V789.6h-8zM3027 741.1h2V793.5h-2zM3024 767.2h8V793.5h-8zM3037 741.1h2V764.6h-2zM3034 741.1h8V763.5h-8zM3047 697.8h2V741.7h-2zM3044 700h8V741.7h-8zM3078 689.1h2V716.7h-2zM3075 710.9h8V716.1h-8zM3089 689.1h2V725.9h-2zM3086 689.1h8V715.7h-8zM3099 676.1h2V691.7h-2zM3096 677h8V691.7h-8zM3109 659.1h2V689.1h-2zM3106 663h8V678.7h-8zM3130 676.1h2V697.8h-2zM3127 680.2h8V687.8h-8zM3150 684.8h2V702.2h-2zM3147 689.1h8V691.3h-8zM3201 710.9h2V732h-2zM3198 715h8V724.8h-8zM3222 723.9h2V733.7h-2zM3219 729.3h8V731.3h-8zM3232 725.9h2V741.1h-2zM3229 729.3h8V731.3h-8zM3242 705.9h2V745h-2zM3239 716.7h8V728.7h-8zM3253 684.8h2V716.1h-2zM3250 689.1h8V716.1h-8zM3263 680.2h2V700h-2zM3260 680.2h8V693.9h-8zM3294 693.3h2V705.9h-2zM3291 696.1h8V702.6h-8zM3304 680.2h2V698.7h-2zM3301 684.8h8V698.7h-8zM3314 666.7h2V697.8h-2zM3311 673.9h8V690h-8zM3325 663h2V679.8h-2zM3322 667.2h8V677h-8zM3355 705.9h2V735.9h-2zM3352 720h8V728.7h-8zM3386 754.1h2V767.2h-2zM3383 762h8V764h-8zM3396 737h2V763.5h-2zM3393 752h8V763.5h-8zM3407 741.1h2V758h-2zM3404 752h8V754.8h-8zM3417 728h2V758h-2zM3414 732h8V752.6h-8zM3458 741.1h2V783.7h-2zM3455 758h8V773.9h-8zM3489 767.8h2V778h-2zM3486 772.8h8V775.9h-8zM3499 733.7h2V778h-2zM3496 745h8V775.9h-8zM3509 718.9h2V748.9h-2zM3506 725.9h8V748.9h-8zM3520 706.1h2V736.5h-2zM3517 713.3h8V726.3h-8zM3540 715h2V720.9h-2zM3537 715h8V719.8h-8zM3591 784.3h2V805.7h-2zM3588 788.3h8V797.6h-8zM3602 776.3h2V796.5h-2zM3599 790h8V792h-8zM3612 778h2V792.6h-2zM3609 778h8V791.5h-8zM3622 775.2h2V794.8h-2zM3619 777.4h8V779.4h-8zM3653 780.2h2V800.9h-2zM3650 786.1h8V797.6h-8zM3674 775.2h2V794.8h-2zM3671 775.2h8V793.7h-8zM3684 754.1h2V782.8h-2zM3681 757.8h8V782.8h-8zM3694 744.8h2V756.7h-2zM3691 752h8V756.7h-8zM3776 784.3h2V840h-2zM3773 787.2h8V823.5h-8zM3807 784.3h2V812.8h-2zM3804 797h8V810.4h-8zM3817 786.1h2V800.9h-2zM3814 795.9h8V797.9h-8zM3848 806.1h2V819.8h-2zM3845 814.3h8V819.8h-8zM3858 806.1h2V818.7h-2zM3855 808.3h8V818.7h-8zM3869 793h2V808.9h-2zM3866 795.2h8V808.9h-8zM3879 784.3h2V797.6h-2zM3876 788.3h8V797.6h-8zM3899 770.9h2V796.5h-2zM3896 778h8V795.9h-8zM3910 770.9h2V785.7h-2zM3907 773.5h8V775.5h-8zM3930 754.1h2V775.9h-2zM3927 757.8h8V775.9h-8zM3940 719.1h2V764.8h-2zM3937 728h8V758.9h-8zM3961 736.7h2V749.6h-2zM3958 741.1h8V747.6h-8zM3981 719.1h2V742h-2zM3978 728h8V742h-8zM3992 720.2h2V736.7h-2zM3989 724.1h8V729.6h-8zM4002 715h2V731.7h-2zM3999 719.1h8V724.6h-8zM4012 715h2V723.7h-2zM4009 720.2h8V723.7h-8zM4033 698h2V725.7h-2zM4030 702h8V719.3h-8zM4053 706.1h2V719.3h-2zM4050 708.3h8V719.3h-8zM4074 704.1h2V716.7h-2zM4071 706.3h8V713.9h-8zM4084 698h2V709.6h-2zM4081 698h8V708.5h-8zM4094 698.7h2V702.4h-2zM4091 699.3h8V701.3h-8zM4105 693.3h2V703.7h-2zM4102 693.3h8V698.7h-8zM4125 676.3h2V692.8h-2zM4122 679.8h8V691.1h-8zM4135 662.8h2V683.9h-2zM4132 665h8V678.7h-8zM4146 654.1h2V672h-2zM4143 665.7h8V667.8h-8zM4156 659.1h2V673.7h-2zM4153 663.3h8V668.7h-8zM4166 654.1h2V666.5h-2zM4163 657.4h8V665.7h-8zM4176 585h2V658.9h-2zM4173 611.1h8V658.9h-8zM4207 598h2V628.7h-2zM4204 607h8V625.9h-8zM4238 635h2V656.7h-2zM4235 635h8V650.9h-8zM4248 624.3h2V640.7h-2zM4245 633.9h8V636.1h-8zM4259 611.1h2V640.7h-2zM4256 622.2h8V637.8h-8zM4279 620h2V636.7h-2zM4276 622.2h8V632.4h-8zM4300 590h2V624.8h-2zM4297 593.9h8V624.8h-8zM4310 577h2V603h-2zM4307 592.2h8V595h-8zM4320 580.9h2V593.9h-2zM4317 583h8V591.1h-8zM4341 589.6h2V609.1h-2zM4338 589.6h8V591.6h-8zM4351 577h2V593.9h-2zM4348 583h8V590.7h-8zM4371 590h2V633h-2zM4368 592.2h8V610h-8zM4382 561.7h2V603h-2zM4379 591.1h8V593.1h-8zM4402 598h2V617.8h-2zM4399 607h8V611.7h-8zM4423 616.1h2V633h-2zM4420 628h8V630h-8zM4433 616.1h2V636.7h-2zM4430 624.3h8V633.9h-8zM4454 620h2V633h-2zM4451 620h8V632h-8zM4474 611.1h2V628.7h-2zM4471 622.2h8V627h-8zM4505 648h2V672h-2zM4502 648h8V660h-8z"/><path fill="#f06292" d="M19 1891.9h2V1902.4h-2zM16 1891.9h8V1902.4h-8zM60 1906.1h2V1911.9h-2zM57 1906.1h8V1910.7h-8zM112 1877.8h2V1897h-2zM109 1888.9h8V1896h-8zM122 1896h2V1903.6h-2zM119 1897h8V1902.6h-8zM143 1895h2V1904h-2zM140 1896h8V1898h-8zM153 1894.4h2V1900h-2zM150 1894.4h8V1896.4h-8zM163 1895h2V1902.6h-2zM160 1897h8V1902.6h-8zM173 1900h2V1904.7h-2zM170 1901h8V1904.7h-8zM184 1897h2V1911.7h-2zM181 1902h8V1909.5h-8zM194 1908.1h2V1916.8h-2zM191 1909.1h8V1915.6h-8zM214 1913.1h2V1920.8h-2zM211 1915.2h8V1919.6h-8zM225 1911.5h2V1923.6h-2zM222 1917.2h8V1923.6h-8zM296 1881.8h2V1897.6h-2zM293 1886.9h8V1897.6h-8zM307 1892.9h2V1900h-2zM304 1895h8V1897h-8zM317 1895h2V1903.6h-2zM314 1895h8V1902.6h-8zM389 1881.8h2V1892.9h-2zM386 1888.1h8V1890.1h-8zM481 1816.8h2V1833.6h-2zM478 1816.8h8V1833.6h-8zM491 1830h2V1852.6h-2zM488 1830h8V1852.6h-8zM522 1825.9h2V1839.1h-2zM519 1833h8V1835h-8zM533 1438.2h2V1605.6h-2zM530 1523.1h8V1580.3h-8zM574 1290.2h2V1471.2h-2zM571 1349.9h8V1426h-8zM605 1160.6h2V1259.6h-2zM602 1220.8h8V1247.5h-8zM625 1234.4h2V1325.1h-2zM622 1246.5h8V1307.2h-8zM636 1263.5h2V1375.1h-2zM633 1302.3h8V1314.4h-8zM666 1182h2V1286.3h-2zM663 1207.7h8V1273.2h-8zM687 1199h2V1314.4h-2zM684 1246.5h8V1312h-8zM779 961h2V1094.9h-2zM776 983.3h8V1060.8h-8zM800 1026.3h2V1090h-2zM797 1039.2h8V1072.6h-8zM872 823h2V870.5h-2zM869 843h8V866.5h-8zM892 862.3h2V995.7h-2zM889 862.3h8V966.8h-8zM903 910h2V1008.4h-2zM900 969.2h8V988.7h-8zM964 901h2V982.6h-2zM961 910.4h8V966.8h-8zM985 905h2V961h-2zM982 918.2h8V944.5h-8zM995 910h2V956.7h-2zM992 938.2h8V944.5h-8zM1015 852.9h2V910h-2zM1012 875.2h8V879.4h-8zM1026 848.9h2V934.6h-2zM1023 884.1h8V923.4h-8zM1036 905h2V934.6h-2zM1033 921.5h8V925.7h-8zM1046 892.1h2V934.6h-2zM1043 925.2h8V928.8h-8zM1067 910h2V956.7h-2zM1064 931.1h8V942.6h-8zM1077 927.4h2V973.9h-2zM1074 944h8V957.4h-8zM1098 950.9h2V991.5h-2zM1095 957h8V974.6h-8zM1118 914h2V968h-2zM1115 914h8V966.8h-8zM1128 953.2h2V976.7h-2zM1125 968h8V972.7h-8zM1149 922.9h2V961h-2zM1146 935.1h8V952.7h-8zM1180 879.2h2V901.7h-2zM1177 884.1h8V901.7h-8zM1200 897h2V939.8h-2zM1197 897h8V934.6h-8zM1221 897h2V926.9h-2zM1218 899.2h8V914.7h-8zM1241 892.1h2V917.5h-2zM1238 897h8V905.7h-8zM1251 905h2V932.8h-2zM1248 910h8V931.6h-8zM1293 858h2V926.9h-2zM1290 901h8V918.7h-8zM1334 763.2h2V811.7h-2zM1331 784.1h8V786.6h-8zM1344 758.3h2V811.7h-2zM1341 785.9h8V809.3h-8zM1364 772.3h2V809.9h-2zM1361 785h8V804.8h-8zM1375 800.8h2V879.1h-2zM1372 806.3h8V862.4h-8zM1385 853.3h2V917.9h-2zM1382 857.8h8V876.6h-8zM1405 869.4h2V904.9h-2zM1402 871.5h8V876h-8zM1416 866.3h2V887.6h-2zM1413 871.5h8V879.7h-8zM1446 871.5h2V939.7h-2zM1443 871.5h8V932.2h-8zM1467 927h2V970.1h-2zM1464 927h8V940.6h-8zM1477 935.2h2V957h-2zM1474 938.2h8V954.9h-8zM1487 931.2h2V973.7h-2zM1484 952.8h8V973.1h-8zM1539 853.3h2V897.3h-2zM1536 860.3h8V877.6h-8zM1549 858.4h2V895.8h-2zM1546 878.2h8V893.3h-8zM1559 879.1h2V910h-2zM1556 894.2h8V896.7h-8zM1611 793.2h2V823h-2zM1608 793.2h8V812.9h-8zM1641 763.2h2V784.1h-2zM1638 769.3h8V772.3h-8zM1662 741.1h2V784.1h-2zM1659 747.1h8V772h-8zM1693 698h2V749.2h-2zM1690 718.9h8V741.7h-8zM1744 659.2h2V723.8h-2zM1741 669.8h8V689.8h-8zM1754 679.8h2V711.3h-2zM1751 691h8V693.4h-8zM1775 688.9h2V711.3h-2zM1772 693.1h8V705.3h-8zM1785 693.1h2V723.8h-2zM1782 705.3h8V716.2h-8zM1806 698h2V750.2h-2zM1803 698h8V719.8h-8zM1836 705.6h2V734.1h-2zM1833 708.3h8V718.3h-8zM1847 698h2V754.1h-2zM1844 718.9h8V732.9h-8zM1898 633h2V670h-2zM1895 646.1h8V654.8h-8zM1908 633h2V658.3h-2zM1905 650h8V657.6h-8zM1949 637h2V671.7h-2zM1946 641.3h8V665.2h-8zM1970 650h2V750h-2zM1967 657.2h8V737.6h-8zM2011 693h2V710.9h-2zM2008 696.3h8V702.8h-8zM2021 689.1h2V708h-2zM2018 701.7h8V704.8h-8zM2031 680h2V714.8h-2zM2028 705h8V713.7h-8zM2052 697.8h2V714.8h-2zM2049 697.8h8V706.5h-8zM2062 706.1h2V733.7h-2zM2059 706.1h8V719.6h-8zM2114 676.1h2V705.9h-2zM2111 684.8h8V695h-8zM2124 689.1h2V702.6h-2zM2121 693h8V702.6h-8zM2144 680h2V697.8h-2zM2141 680h8V687.6h-8zM2155 676.1h2V690.9h-2zM2152 687h8V689h-8zM2165 684.8h2V714.8h-2zM2162 684.8h8V708.7h-8zM2196 693h2V723.9h-2zM2193 693h8V717.8h-8zM2226 689.1h2V718.9h-2zM2223 689.1h8V706.5h-8zM2237 702.2h2V744.6h-2zM2234 702.2h8V741.7h-8zM2267 723.9h2V788h-2zM2264 730h8V754.8h-8zM2319 637h2V684.8h-2zM2316 646.1h8V670h-8zM2329 655h2V687.6h-2zM2326 672.2h8V687.6h-8zM2339 680h2V723.9h-2zM2336 684.8h8V715.9h-8zM2360 703.9h2V728.7h-2zM2357 703.9h8V728.7h-8zM2370 710.9h2V732.6h-2zM2367 723.9h8V732.6h-8zM2391 689.1h2V714.8h-2zM2388 706.1h8V708.7h-8zM2421 690.9h2V710.9h-2zM2418 697.8h8V704.8h-8zM2432 701.7h2V733.7h-2zM2429 703.9h8V728.7h-8zM2462 689.1h2V700h-2zM2459 693.3h8V698.7h-8zM2483 686.3h2V702.6h-2zM2480 689.1h8V702.6h-8zM2504 702.2h2V730.9h-2zM2501 702.2h8V730.9h-8zM2514 723.9h2V736.7h-2zM2511 730.4h8V736.7h-8zM2524 732h2V774.8h-2zM2521 733h8V765.7h-8zM2555 715h2V745h-2zM2552 718.9h8V742.2h-8zM2606 728h2V805.9h-2zM2603 730.2h8V791.7h-8zM2627 773.3h2V792.8h-2zM2624 784.1h8V789.6h-8zM2657 775h2V792.8h-2zM2654 775h8V787h-8zM2678 775h2V792.8h-2zM2675 775h8V784.8h-8zM2699 745h2V796.7h-2zM2696 771.1h8V793.9h-8zM2719 737h2V766.7h-2zM2716 758h8V763.5h-8zM2729 723.9h2V766.7h-2zM2726 760.9h8V762.9h-8zM2740 760.2h2V788.5h-2zM2737 762.8h8V788.5h-8zM2811 741.1h2V783.7h-2zM2808 741.1h8V778.7h-8zM2822 766.7h2V779.8h-2zM2819 775h8V777h-8zM2863 765.2h2V805.9h-2zM2860 768.9h8V792.8h-8zM2873 787.8h2V809.6h-2zM2870 787.8h8V801.5h-8zM2894 775.9h2V792.8h-2zM2891 782.6h8V784.6h-8zM2904 775h2V788.5h-2zM2901 786.3h8V788.5h-8zM2924 775h2V796.7h-2zM2921 776.5h8V791.7h-8zM2955 754.8h2V778.7h-2zM2952 760.2h8V773.9h-8zM2986 750h2V796.7h-2zM2983 758h8V778.7h-8zM2996 775.9h2V796.7h-2zM2993 780.2h8V791.7h-8zM3017 778h2V796.7h-2zM3014 778h8V791.7h-8zM3058 697.8h2V723.9h-2zM3055 700h8V713.9h-8zM3068 710.9h2V723.9h-2zM3065 710.9h8V719.6h-8zM3119 664.1h2V689.1h-2zM3116 665h8V685.7h-8zM3140 680.2h2V697.8h-2zM3137 683h8V693.9h-8zM3160 689.1h2V710.9h-2zM3157 690h8V697.2h-8zM3171 684.8h2V710.9h-2zM3168 696.1h8V698.1h-8zM3181 696.1h2V728h-2zM3178 696.1h8V715.7h-8zM3191 713h2V732h-2zM3188 715h8V721.7h-8zM3212 716.7h2V733.7h-2zM3209 718.9h8V728.7h-8zM3273 676.1h2V692.8h-2zM3270 676.1h8V689.6h-8zM3284 689.1h2V703.7h-2zM3281 691.1h8V701.1h-8zM3335 666.7h2V697.2h-2zM3332 670h8V697.2h-8zM3345 693.3h2V741.1h-2zM3342 695h8V730.9h-8zM3366 718.9h2V775h-2zM3363 718.9h8V751.1h-8zM3376 737h2V784.8h-2zM3373 752h8V759.8h-8zM3427 728h2V759.8h-2zM3424 728h8V753.7h-8zM3437 745h2V763h-2zM3434 752h8V761.3h-8zM3448 760.2h2V777.6h-2zM3445 760.2h8V775.9h-8zM3468 755.9h2V766.7h-2zM3465 760.2h8V762.4h-8zM3479 760.2h2V787.8h-2zM3476 760.2h8V775.9h-8zM3530 702h2V718.3h-2zM3527 713.3h8V718.3h-8zM3550 711.1h2V744.8h-2zM3547 717h8V739.3h-8zM3561 738.9h2V779.6h-2zM3558 738.9h8V773.7h-8zM3571 773h2V800.9h-2zM3568 773h8V789.8h-8zM3581 780h2V805.7h-2zM3578 791.1h8V797.6h-8zM3632 776.3h2V790.4h-2zM3629 780.2h8V784.6h-8zM3643 780.2h2V801.7h-2zM3640 786.1h8V801.7h-8zM3663 786.1h2V803.9h-2zM3660 786.1h8V795.4h-8zM3704 750.2h2V774.6h-2zM3701 753h8V773.7h-8zM3715 769.3h2V788.7h-2zM3712 770.9h8V788.7h-8zM3725 786.1h2V796.5h-2zM3722 788.3h8V793.7h-8zM3735 783.9h2V807.8h-2zM3732 795.2h8V799.8h-8zM3745 788.3h2V805.7h-2zM3742 798.5h8V801.3h-8zM3756 799.1h2V822.6h-2zM3753 799.1h8V810.4h-8zM3766 806.1h2V822.6h-2zM3763 810h8V819.8h-8zM3786 782.2h2V800.9h-2zM3783 788.3h8V795.4h-8zM3797 795.2h2V818.7h-2zM3794 795.2h8V808.9h-8zM3827 789.3h2V803.5h-2zM3824 795.2h8V801.3h-8zM3838 793h2V818.7h-2zM3835 800.9h8V817.6h-8zM3889 788.3h2V796.5h-2zM3886 791.1h8V793.7h-8zM3920 754.1h2V778h-2zM3917 773h8V775.9h-8zM3951 720.2h2V749.6h-2zM3948 724.1h8V747.6h-8zM3971 732.2h2V741.1h-2zM3968 735.7h8V737.8h-8zM4022 715h2V725.7h-2zM4019 720.2h8V724.6h-8zM4043 702h2V718.7h-2zM4040 704.1h8V717.6h-8zM4064 708h2V718.3h-2zM4061 708h8V713.5h-8zM4115 683h2V699.8h-2zM4112 690.7h8V693.9h-8zM4187 603h2V628.7h-2zM4184 612.2h8V622.6h-8zM4197 622.2h2V649.8h-2zM4194 624.3h8V626.5h-8zM4217 609.1h2V632.4h-2zM4214 609.1h8V624.8h-8zM4228 616.1h2V658.5h-2zM4225 624.3h8V650.9h-8zM4269 616.1h2V636.1h-2zM4266 620h8V633.5h-8zM4289 616.1h2V628.7h-2zM4286 619.3h8V621.3h-8zM4330 585h2V597.6h-2zM4327 585h8V592.8h-8zM4361 572h2V615h-2zM4358 580.9h8V610h-8zM4392 592.2h2V633h-2zM4389 593.9h8V611.7h-8zM4412 605.2h2V649.8h-2zM4409 607h8V633.9h-8zM4443 611.1h2V633h-2zM4440 624.3h8V632h-8zM4464 611.1h2V633h-2zM4461 620h8V627h-8zM4484 620h2V649.8h-2zM4481 624.3h8V644.8h-8zM4495 635h2V658.9h-2zM4492 643.9h8V658h-8zM4515 620h2V656.7h-2zM4512 648h8V652h-8zM4525 645.9h2V663.9h-2zM4522 650.9h8V663.9h-8z"/><g stroke="#000" stroke-width="2" fill="none"><path d="M502 1438V1668M491.5 1658L502 1668.5L512.5 1658"/><path d="M4695.9 1437V1079.8M4695.9 1026V666.5M4685.5 676.4L4695.9 666.3L4706.3 676.4M4648.7 665.9H4742.5M4648.7 1437.8H4742.5"/></g><text x="368.3" y="1729.0" fill="#000" style="font-size:28.5px;letter-spacing:0.96px;">−0.54 (−9.33%) −54</text><text x="4626.9" y="1063.8" fill="#000" style="font-size:32px;letter-spacing:0.56px;">31% gain</text><text x="4570.9" y="627.0" fill="#000" style="font-size:28.5px;letter-spacing:0.77px;">1.79 (31.17%)</text><text x="4769.4" y="627.0" fill="#000" style="font-size:28.5px;letter-spacing:1.70px;">179</text><path d="M534 2014.6L549.9 2024.3Q551.5 2025.6 551.5 2028V2048.5Q551.5 2052.6 547.4 2052.6H520.6Q516.5 2052.6 516.5 2048.5V2028Q516.5 2025.6 518.1 2024.3Z" fill="#fff" stroke="#089981" stroke-width="2.8" stroke-linejoin="round"/><text x="525.8" y="2042.9" fill="#089981" style="font-size:23.6px;font-weight:700;" transform="translate(534 0) scale(.88 1) translate(-534 0)">E</text></g><text x="34.4" y="435.0" fill="#131518" style="font-size:25px;letter-spacing:-0.17px;">Digital Turbine, Inc. · 1 · NASDAQ</text><text x="419.9" y="435.0" fill="#131518" style="font-size:25px;">O</text><text x="438.2" y="435.0" fill="#f06292" style="font-size:25px;letter-spacing:-0.13px;">7.56</text><text x="498.6" y="435.0" fill="#131518" style="font-size:25px;">H</text><text x="517.2" y="435.0" fill="#f06292" style="font-size:25px;letter-spacing:-0.58px;">7.57</text><text x="576.3" y="435.0" fill="#131518" style="font-size:25px;">L</text><text x="590.0" y="435.0" fill="#f06292" style="font-size:25px;letter-spacing:-0.13px;">7.53</text><text x="651.2" y="435.0" fill="#131518" style="font-size:25px;">C</text><text x="668.5" y="435.0" fill="#f06292" style="font-size:25px;letter-spacing:-0.26px;">7.53</text><text x="729.2" y="435.0" fill="#f06292" style="font-size:25px;letter-spacing:0.40px;">−0.03 (−0.37%)</text><text x="4581.3" y="449.2" fill="#8e8e8e" style="font-size:28px;letter-spacing:0.34px;">ADR%  12.6%</text><g clip-path="url(#cv)"><path fill="#7fa1ff" d="M37 2400.4h8V2406.5h-8zM47 2404.4h8V2406.5h-8zM68 2398.6h8V2406.5h-8zM88 2400.4h8V2406.5h-8zM98 2395.7h8V2406.5h-8zM129 2401.2h8V2406.5h-8zM140 2403.6h8V2406.5h-8zM150 2404.4h8V2406.5h-8zM201 2401.2h8V2406.5h-8zM232 2404.4h8V2406.5h-8zM242 2401.2h8V2406.5h-8zM252 2396.5h8V2406.5h-8zM263 2400.4h8V2406.5h-8zM273 2401.2h8V2406.5h-8zM283 2397.5h8V2406.5h-8zM304 2401.2h8V2406.5h-8zM324 2403.6h8V2406.5h-8zM335 2403.6h8V2406.5h-8zM355 2403.6h8V2406.5h-8zM365 2398.6h8V2406.5h-8zM386 2397.5h8V2406.5h-8zM396 2404.4h8V2406.5h-8zM406 2386.7h8V2406.5h-8zM417 2391.7h8V2406.5h-8zM427 2394.6h8V2406.5h-8zM437 2392.8h8V2406.5h-8zM447 2386.7h8V2406.5h-8zM458 2382.7h8V2406.5h-8zM468 2374.8h8V2406.5h-8zM499 2389.6h8V2406.5h-8zM509 2375.6h8V2406.5h-8zM519 2361.6h8V2406.5h-8zM530 2147.5h8V2406.5h-8zM540 2219.6h8V2406.5h-8zM551 2257.9h8V2406.5h-8zM561 2181.8h8V2406.5h-8zM581 2284.8h8V2406.5h-8zM592 2189.8h8V2406.5h-8zM612 2315.4h8V2406.5h-8zM643 2244.7h8V2406.5h-8zM653 2231.7h8V2406.5h-8zM674 2340.5h8V2406.5h-8zM694 2317.8h8V2406.5h-8zM705 2298.8h8V2406.5h-8zM715 2238.9h8V2406.5h-8zM725 2269h8V2406.5h-8zM735 2241.8h8V2406.5h-8zM746 2255.8h8V2406.5h-8zM756 2165.7h8V2406.5h-8zM766 2270.8h8V2406.5h-8zM787 2245.7h8V2406.5h-8zM807 2286.9h8V2406.5h-8zM817 2331.8h8V2406.5h-8zM828 2300.9h8V2406.5h-8zM838 2208.8h8V2406.5h-8zM848 2237.8h8V2406.5h-8zM858 2240.7h8V2406.5h-8zM879 2231.7h8V2406.5h-8zM910 2316.7h8V2406.5h-8zM920 2340.8h8V2406.5h-8zM930 2338.9h8V2406.5h-8zM941 2328.9h8V2406.5h-8zM951 2316.7h8V2406.5h-8zM971 2360h8V2406.5h-8zM992 2368h8V2406.5h-8zM1002 2316h8V2406.5h-8zM1053 2376.9h8V2406.5h-8zM1084 2374h8V2406.5h-8zM1105 2364h8V2406.5h-8zM1136 2374h8V2406.5h-8zM1156 2366.9h8V2406.5h-8zM1166 2359h8V2406.5h-8zM1187 2387h8V2406.5h-8zM1207 2385.9h8V2406.5h-8zM1228 2378h8V2406.5h-8zM1259 2375.9h8V2406.5h-8zM1269 2378h8V2406.5h-8zM1279 2385.9h8V2406.5h-8zM1300 2360h8V2406.5h-8zM1310 2345h8V2406.5h-8zM1320 2246.8h8V2406.5h-8zM1351 2333.9h8V2406.5h-8zM1392 2377.8h8V2406.5h-8zM1423 2384.8h8V2406.5h-8zM1433 2399.2h8V2406.5h-8zM1454 2359.1h8V2406.5h-8zM1495 2366.8h8V2406.5h-8zM1505 2353.1h8V2406.5h-8zM1515 2371.8h8V2406.5h-8zM1526 2356.8h8V2406.5h-8zM1567 2364.1h8V2406.5h-8zM1577 2366.8h8V2406.5h-8zM1587 2364.1h8V2406.5h-8zM1597 2359.1h8V2406.5h-8zM1618 2377.8h8V2406.5h-8zM1628 2375.8h8V2406.5h-8zM1649 2326h8V2406.5h-8zM1669 2350.1h8V2406.5h-8zM1679 2356.1h8V2406.5h-8zM1700 2355.1h8V2406.5h-8zM1710 2353.1h8V2406.5h-8zM1721 2350.1h8V2406.5h-8zM1731 2331h8V2406.5h-8zM1762 2371.8h8V2406.5h-8zM1792 2360.1h8V2406.5h-8zM1813 2365.8h8V2406.5h-8zM1823 2380.1h8V2406.5h-8zM1854 2392.8h8V2406.5h-8zM1864 2383.8h8V2406.5h-8zM1874 2377.8h8V2406.5h-8zM1885 2344.1h8V2406.5h-8zM1916 2369.1h8V2406.5h-8zM1926 2373.8h8V2406.5h-8zM1957 2392.8h8V2406.5h-8zM1977 2370.8h8V2406.5h-8zM1987 2386.8h8V2406.5h-8zM1998 2389.8h8V2406.5h-8zM2039 2393.8h8V2406.5h-8zM2069 2393.8h8V2406.5h-8zM2080 2392.8h8V2406.5h-8zM2090 2395.8h8V2406.5h-8zM2100 2372.8h8V2406.5h-8zM2131 2393.8h8V2406.5h-8zM2172 2394.8h8V2406.5h-8zM2182 2394.8h8V2406.5h-8zM2203 2395.8h8V2406.5h-8zM2213 2382.8h8V2406.5h-8zM2244 2386.8h8V2406.5h-8zM2254 2383.8h8V2406.5h-8zM2275 2376.8h8V2406.5h-8zM2285 2384.8h8V2406.5h-8zM2295 2375.8h8V2406.5h-8zM2306 2361.1h8V2406.5h-8zM2347 2374.8h8V2406.5h-8zM2377 2382.8h8V2406.5h-8zM2398 2397.8h8V2406.5h-8zM2408 2364.8h8V2406.5h-8zM2439 2397.8h8V2406.5h-8zM2449 2379.8h8V2406.5h-8zM2470 2394.8h8V2406.5h-8zM2490 2396.8h8V2406.5h-8zM2531 2391.8h8V2406.5h-8zM2542 2383.8h8V2406.5h-8zM2562 2385.8h8V2406.5h-8zM2572 2390.8h8V2406.5h-8zM2583 2398.8h8V2406.5h-8zM2613 2387.8h8V2406.5h-8zM2634 2387.8h8V2406.5h-8zM2644 2387.8h8V2406.5h-8zM2665 2394.8h8V2406.5h-8zM2685 2390.8h8V2406.5h-8zM2706 2383.8h8V2406.5h-8zM2726 2389.8h8V2406.5h-8zM2747 2384.8h8V2406.5h-8zM2757 2391.8h8V2406.5h-8zM2767 2387.8h8V2406.5h-8zM2778 2388.8h8V2406.5h-8zM2788 2386.8h8V2406.5h-8zM2798 2390.8h8V2406.5h-8zM2829 2400.8h8V2406.5h-8zM2839 2398.8h8V2406.5h-8zM2849 2398.8h8V2406.5h-8zM2880 2394.8h8V2406.5h-8zM2891 2399.8h8V2406.5h-8zM2911 2396.8h8V2406.5h-8zM2932 2397.8h8V2406.5h-8zM2942 2394.8h8V2406.5h-8zM2962 2398.8h8V2406.5h-8zM2973 2387.8h8V2406.5h-8zM3003 2397.8h8V2406.5h-8zM3024 2384.8h8V2406.5h-8zM3034 2378.8h8V2406.5h-8zM3044 2350.1h8V2406.5h-8zM3075 2378.8h8V2406.5h-8zM3086 2383.8h8V2406.5h-8zM3096 2358.1h8V2406.5h-8zM3106 2362.1h8V2406.5h-8zM3127 2387.8h8V2406.5h-8zM3147 2392.8h8V2406.5h-8zM3198 2397.8h8V2406.5h-8zM3229 2398.8h8V2406.5h-8zM3239 2386.8h8V2406.5h-8zM3250 2395.8h8V2406.5h-8zM3260 2395.8h8V2406.5h-8zM3291 2399.8h8V2406.5h-8zM3301 2386.8h8V2406.5h-8zM3311 2381.8h8V2406.5h-8zM3322 2394.8h8V2406.5h-8zM3352 2389.8h8V2406.5h-8zM3393 2391.8h8V2406.5h-8zM3404 2395.8h8V2406.5h-8zM3414 2381.8h8V2406.5h-8zM3455 2388.8h8V2406.5h-8zM3486 2398.8h8V2406.5h-8zM3496 2388.8h8V2406.5h-8zM3506 2392.8h8V2406.5h-8zM3517 2390.8h8V2406.5h-8zM3537 2400.8h8V2406.5h-8zM3588 2389.8h8V2406.5h-8zM3609 2394.8h8V2406.5h-8zM3619 2381.8h8V2406.5h-8zM3650 2395.8h8V2406.5h-8zM3671 2393.8h8V2406.5h-8zM3681 2392.8h8V2406.5h-8zM3691 2394.8h8V2406.5h-8zM3773 2365.8h8V2406.5h-8zM3804 2398.8h8V2406.5h-8zM3814 2394.8h8V2406.5h-8zM3845 2385.8h8V2406.5h-8zM3855 2401.8h8V2406.5h-8zM3866 2390.8h8V2406.5h-8zM3876 2399.8h8V2406.5h-8zM3896 2392.8h8V2406.5h-8zM3907 2397.8h8V2406.5h-8zM3917 2380.1h8V2406.5h-8zM3927 2385.8h8V2406.5h-8zM3937 2376.8h8V2406.5h-8zM3958 2393.8h8V2406.5h-8zM3968 2397.8h8V2406.5h-8zM3978 2387.8h8V2406.5h-8zM3989 2396.8h8V2406.5h-8zM3999 2395.8h8V2406.5h-8zM4030 2362.1h8V2406.5h-8zM4050 2390.8h8V2406.5h-8zM4071 2393.8h8V2406.5h-8zM4081 2389.8h8V2406.5h-8zM4102 2382.8h8V2406.5h-8zM4112 2392.8h8V2406.5h-8zM4122 2394.8h8V2406.5h-8zM4132 2374.8h8V2406.5h-8zM4153 2388.8h8V2406.5h-8zM4163 2390.8h8V2406.5h-8zM4173 2275h8V2406.5h-8zM4204 2370.8h8V2406.5h-8zM4235 2356.8h8V2406.5h-8zM4245 2373.8h8V2406.5h-8zM4256 2372.8h8V2406.5h-8zM4276 2390.8h8V2406.5h-8zM4286 2381.8h8V2406.5h-8zM4297 2361.1h8V2406.5h-8zM4307 2360.1h8V2406.5h-8zM4317 2381.8h8V2406.5h-8zM4338 2366.8h8V2406.5h-8zM4348 2382.8h8V2406.5h-8zM4368 2364.1h8V2406.5h-8zM4379 2355.1h8V2406.5h-8zM4399 2379.8h8V2406.5h-8zM4420 2381.8h8V2406.5h-8zM4430 2380.8h8V2406.5h-8zM4451 2388.8h8V2406.5h-8zM4471 2382.8h8V2406.5h-8zM4502 2369.1h8V2406.5h-8z"/><path fill="#f278a1" d="M16 2402.3h8V2406.5h-8zM27 2404.4h8V2406.5h-8zM57 2404.4h8V2406.5h-8zM78 2404.4h8V2406.5h-8zM109 2396.5h8V2406.5h-8zM119 2403.6h8V2406.5h-8zM160 2401.2h8V2406.5h-8zM170 2403.6h8V2406.5h-8zM181 2396.5h8V2406.5h-8zM191 2403.6h8V2406.5h-8zM211 2399.4h8V2406.5h-8zM222 2401.2h8V2406.5h-8zM293 2397.5h8V2406.5h-8zM314 2398.6h8V2406.5h-8zM345 2401.2h8V2406.5h-8zM376 2403.6h8V2406.5h-8zM478 2387.8h8V2406.5h-8zM488 2390.7h8V2406.5h-8zM571 2267.6h8V2406.5h-8zM602 2254.7h8V2406.5h-8zM622 2288.8h8V2406.5h-8zM633 2243.9h8V2406.5h-8zM663 2308.6h8V2406.5h-8zM684 2313.6h8V2406.5h-8zM776 2096.8h8V2406.5h-8zM797 2291.7h8V2406.5h-8zM869 2275.8h8V2406.5h-8zM889 2245.7h8V2406.5h-8zM900 2295.9h8V2406.5h-8zM961 2340h8V2406.5h-8zM982 2356.9h8V2406.5h-8zM1012 2313.8h8V2406.5h-8zM1023 2312.8h8V2406.5h-8zM1033 2351.9h8V2406.5h-8zM1043 2371.9h8V2406.5h-8zM1064 2371.9h8V2406.5h-8zM1074 2371.9h8V2406.5h-8zM1095 2369h8V2406.5h-8zM1115 2383h8V2406.5h-8zM1125 2379.8h8V2406.5h-8zM1146 2385.9h8V2406.5h-8zM1177 2371.9h8V2406.5h-8zM1197 2381.9h8V2406.5h-8zM1218 2387h8V2406.5h-8zM1238 2384.9h8V2406.5h-8zM1248 2387h8V2406.5h-8zM1290 2307.8h8V2406.5h-8zM1331 2330.7h8V2406.5h-8zM1341 2335h8V2406.5h-8zM1361 2366.9h8V2406.5h-8zM1372 2334.1h8V2406.5h-8zM1382 2310h8V2406.5h-8zM1402 2384.8h8V2406.5h-8zM1413 2380.8h8V2406.5h-8zM1443 2322h8V2406.5h-8zM1464 2341.1h8V2406.5h-8zM1474 2374.8h8V2406.5h-8zM1484 2359.1h8V2406.5h-8zM1536 2384.8h8V2406.5h-8zM1546 2385.8h8V2406.5h-8zM1556 2382.8h8V2406.5h-8zM1608 2372.8h8V2406.5h-8zM1638 2364.1h8V2406.5h-8zM1659 2361.8h8V2406.5h-8zM1690 2318h8V2406.5h-8zM1741 2345.1h8V2406.5h-8zM1751 2364.1h8V2406.5h-8zM1772 2380.1h8V2406.5h-8zM1782 2371.8h8V2406.5h-8zM1803 2374.8h8V2406.5h-8zM1833 2390.8h8V2406.5h-8zM1844 2376.8h8V2406.5h-8zM1895 2362.1h8V2406.5h-8zM1905 2374.8h8V2406.5h-8zM1936 2363.4h8V2406.5h-8zM1946 2372.8h8V2406.5h-8zM1967 2317h8V2406.5h-8zM2008 2390.8h8V2406.5h-8zM2018 2391.8h8V2406.5h-8zM2028 2388.8h8V2406.5h-8zM2049 2393.8h8V2406.5h-8zM2059 2380.8h8V2406.5h-8zM2111 2385.8h8V2406.5h-8zM2121 2389.8h8V2406.5h-8zM2141 2394.8h8V2406.5h-8zM2152 2380.8h8V2406.5h-8zM2162 2389.8h8V2406.5h-8zM2193 2380.1h8V2406.5h-8zM2223 2388.8h8V2406.5h-8zM2234 2372.8h8V2406.5h-8zM2264 2351.1h8V2406.5h-8zM2316 2353.1h8V2406.5h-8zM2326 2384.8h8V2406.5h-8zM2336 2381.8h8V2406.5h-8zM2357 2394.8h8V2406.5h-8zM2367 2388.8h8V2406.5h-8zM2388 2392.8h8V2406.5h-8zM2418 2393.8h8V2406.5h-8zM2429 2382.8h8V2406.5h-8zM2459 2395.8h8V2406.5h-8zM2480 2397.8h8V2406.5h-8zM2501 2393.8h8V2406.5h-8zM2511 2398.8h8V2406.5h-8zM2521 2380.1h8V2406.5h-8zM2552 2394.8h8V2406.5h-8zM2593 2398.8h8V2406.5h-8zM2603 2356.1h8V2406.5h-8zM2624 2390.8h8V2406.5h-8zM2654 2388.8h8V2406.5h-8zM2675 2391.8h8V2406.5h-8zM2696 2371.8h8V2406.5h-8zM2716 2364.8h8V2406.5h-8zM2737 2396.8h8V2406.5h-8zM2808 2387.8h8V2406.5h-8zM2819 2395.8h8V2406.5h-8zM2860 2387.8h8V2406.5h-8zM2870 2388.8h8V2406.5h-8zM2901 2398.8h8V2406.5h-8zM2921 2396.8h8V2406.5h-8zM2952 2398.8h8V2406.5h-8zM2983 2391.8h8V2406.5h-8zM2993 2394.8h8V2406.5h-8zM3014 2399.8h8V2406.5h-8zM3055 2365.8h8V2406.5h-8zM3065 2400.8h8V2406.5h-8zM3116 2391.8h8V2406.5h-8zM3137 2394.8h8V2406.5h-8zM3157 2392.8h8V2406.5h-8zM3168 2390.8h8V2406.5h-8zM3178 2390.8h8V2406.5h-8zM3188 2396.8h8V2406.5h-8zM3209 2396.8h8V2406.5h-8zM3219 2398.8h8V2406.5h-8zM3270 2395.8h8V2406.5h-8zM3281 2395.8h8V2406.5h-8zM3332 2393.8h8V2406.5h-8zM3342 2377.8h8V2406.5h-8zM3363 2364.1h8V2406.5h-8zM3373 2378.8h8V2406.5h-8zM3383 2398.8h8V2406.5h-8zM3424 2397.8h8V2406.5h-8zM3434 2396.8h8V2406.5h-8zM3445 2386.8h8V2406.5h-8zM3465 2401.8h8V2406.5h-8zM3476 2394.8h8V2406.5h-8zM3527 2384.8h8V2406.5h-8zM3547 2390.8h8V2406.5h-8zM3558 2382.8h8V2406.5h-8zM3568 2371.8h8V2406.5h-8zM3578 2383.8h8V2406.5h-8zM3599 2387.8h8V2406.5h-8zM3629 2400.8h8V2406.5h-8zM3640 2396.8h8V2406.5h-8zM3660 2396.8h8V2406.5h-8zM3701 2392.8h8V2406.5h-8zM3712 2398.8h8V2406.5h-8zM3722 2401.8h8V2406.5h-8zM3732 2388.8h8V2406.5h-8zM3742 2396.8h8V2406.5h-8zM3753 2369.1h8V2406.5h-8zM3763 2385.8h8V2406.5h-8zM3783 2390.8h8V2406.5h-8zM3794 2394.8h8V2406.5h-8zM3824 2395.8h8V2406.5h-8zM3835 2394.8h8V2406.5h-8zM3886 2398.8h8V2406.5h-8zM3948 2393.8h8V2406.5h-8zM4009 2398.8h8V2406.5h-8zM4019 2396.8h8V2406.5h-8zM4040 2391.8h8V2406.5h-8zM4061 2398.8h8V2406.5h-8zM4091 2402.8h8V2406.5h-8zM4143 2376.8h8V2406.5h-8zM4184 2364.1h8V2406.5h-8zM4194 2380.1h8V2406.5h-8zM4214 2376.8h8V2406.5h-8zM4225 2364.8h8V2406.5h-8zM4266 2376.8h8V2406.5h-8zM4327 2384.8h8V2406.5h-8zM4358 2358.1h8V2406.5h-8zM4389 2363.1h8V2406.5h-8zM4409 2364.1h8V2406.5h-8zM4440 2379.8h8V2406.5h-8zM4461 2370.1h8V2406.5h-8zM4481 2355.1h8V2406.5h-8zM4492 2345.1h8V2406.5h-8zM4512 2348.1h8V2406.5h-8zM4522 2331h8V2406.5h-8z"/><polyline fill="none" stroke="#2962ff" stroke-width="2.1" stroke-linejoin="round" stroke-linecap="round" points="20,2402.1 402.8,2402.1 468.8,2400 521.6,2398.1 534.3,2391.5 554.8,2385.7 565.1,2381 585.7,2377 600.8,2371.2 627.2,2366.4 653.6,2356.7 680,2352.4 690,2350.6 708.5,2347.2 729.6,2341.4 750.7,2335.3 761.3,2330.8 770.5,2328.2 781.1,2321 791.1,2318.1 811.4,2314.2 832.6,2311 853.7,2303.9 874.8,2297.8 893.3,2291.2 914.4,2287.8 935.5,2285.4 954,2282.7 967.2,2281.7 996.2,2280.6 1020,2276.7 1035.8,2275.9 1046.4,2280.6 1067.5,2285.9 1078.1,2289.9 1099.2,2293.8 1117.7,2299.1 1138.8,2302.3 1170.5,2310.2 1191.6,2312.8 1218,2315.7 1244.4,2321.6 1262.9,2327.4 1273.4,2331.6 1284,2334.8 1294.5,2338.7 1305.1,2340.8 1314.3,2341.9 1324.9,2340.8 1344.7,2341.9 1350,2343.6 1370,2347.6 1386.7,2349.6 1406.8,2354.6 1436.8,2358.9 1450.2,2358.6 1483.5,2360.3 1506.9,2360.3 1523.6,2361.9 1543.6,2363.6 1557,2364.3 1583.7,2363.9 1633.8,2363.9 1650.5,2362.6 1683.9,2361.6 1717.2,2359.2 1750.6,2356.6 1797.4,2355.9 1804,2356.9 1824.1,2357.6 1837.4,2360.3 1867.5,2363.6 1897.5,2364.9 1924.2,2364.6 1947.6,2363.6 1961,2364.9 1971,2364.3 1991,2364.9 2017.7,2366.6 2044.4,2367.9 2071.1,2368.3 2104.5,2369.9 2151.3,2371.6 2184.6,2374.3 2200,2375.3 2233.4,2378.3 2256.8,2380.3 2316.8,2379.9 2387,2380.3 2407,2382 2473.8,2383.6 2490.5,2385.6 2533.9,2386.3 2600.6,2385.6 2667.4,2385.3 2720.8,2384.3 2767.6,2385.3 2811,2386.6 2834.3,2388.6 2867.7,2389.3 2934.5,2390.3 3001.3,2391 3034.6,2391 3050,2390 3083.4,2389.6 3110.1,2388 3130.1,2389 3200.2,2389 3233.6,2390.6 3283.7,2391.3 3333.8,2391.3 3367.2,2389.6 3417.2,2389.6 3484,2389.3 3534.1,2388.6 3567.5,2390 3617.6,2390.3 3634.2,2391.3 3734.4,2391.6 3767.8,2390.6 3851.3,2390.6 3884.6,2392 3900,2392.3 3933.4,2391.3 3983.5,2391.3 4026.9,2391.6 4050.2,2391 4100.3,2392.3 4133.7,2392.3 4167.1,2391.3 4177.1,2389 4200.5,2387.6 4217.2,2387 4240.5,2385.3 4260.6,2384.6 4287.3,2385.3 4317.3,2383.6 4350.7,2382.3 4384.1,2380.6 4417.5,2379.3 4450.9,2378.6 4484.2,2376.9 4500.9,2375.9 4517.6,2374.6 4526.6,2373.3"/></g><text x="4807.7" y="96.4" fill="#131518" style="font-size:24px;letter-spacing:1.82px;">1.50</text><text x="4807.7" y="191.4" fill="#131518" style="font-size:24px;letter-spacing:1.85px;">1.0000</text><text x="4808.7" y="284.9" fill="#131518" style="font-size:24px;letter-spacing:1.66px;">0.5000</text><text x="4808.7" y="379.0" fill="#131518" style="font-size:24px;letter-spacing:1.66px;">0.0000</text><g clip-path="url(#ca)"><text x="4808.5" y="468.5" fill="#131518" style="font-size:24px;letter-spacing:1.21px;">8.00</text><text x="4808.3" y="554.9" fill="#131518" style="font-size:24px;letter-spacing:1.29px;">7.80</text><text x="4808.3" y="641.3" fill="#131518" style="font-size:24px;letter-spacing:1.29px;">7.60</text><text x="4808.3" y="727.7" fill="#131518" style="font-size:24px;letter-spacing:1.29px;">7.40</text><text x="4808.3" y="814.1" fill="#131518" style="font-size:24px;letter-spacing:1.29px;">7.20</text><text x="4808.3" y="900.5" fill="#131518" style="font-size:24px;letter-spacing:1.29px;">7.00</text><text x="4808.3" y="986.9" fill="#131518" style="font-size:24px;letter-spacing:1.29px;">6.80</text><text x="4808.3" y="1073.3" fill="#131518" style="font-size:24px;letter-spacing:1.29px;">6.60</text><text x="4808.3" y="1159.7" fill="#131518" style="font-size:24px;letter-spacing:1.29px;">6.40</text><text x="4808.3" y="1246.1" fill="#131518" style="font-size:24px;letter-spacing:1.29px;">6.20</text><text x="4808.3" y="1332.5" fill="#131518" style="font-size:24px;letter-spacing:1.29px;">6.00</text><text x="4808.5" y="1418.9" fill="#131518" style="font-size:24px;letter-spacing:1.21px;">5.80</text><text x="4808.5" y="1505.3" fill="#131518" style="font-size:24px;letter-spacing:1.21px;">5.60</text><text x="4808.5" y="1591.7" fill="#131518" style="font-size:24px;letter-spacing:1.21px;">5.40</text><text x="4808.5" y="1678.1" fill="#131518" style="font-size:24px;letter-spacing:1.21px;">5.20</text><text x="4808.5" y="1764.5" fill="#131518" style="font-size:24px;letter-spacing:1.21px;">5.00</text><text x="4809.0" y="1850.9" fill="#131518" style="font-size:24px;letter-spacing:1.05px;">4.80</text><text x="4809.0" y="1937.3" fill="#131518" style="font-size:24px;letter-spacing:1.05px;">4.60</text><text x="4809.0" y="2023.7" fill="#131518" style="font-size:24px;letter-spacing:1.05px;">4.40</text></g><rect x="4799" y="403" width="122.5" height="51" rx="7" fill="#fff" stroke="#f2f2f3" stroke-width="2"/><text x="4815.0" y="436.8" fill="#131518" style="font-size:24px;letter-spacing:0.28px;">USD</text><path d="M4792 646.2H4868.3Q4871.8 646.2 4871.8 649.7V676.3Q4871.8 679.8 4868.3 679.8H4792Z" fill="#f06292"/><text x="4808.5" y="671.4" fill="#fff" style="font-size:24px;letter-spacing:1.26px;">7.53</text><g clip-path="url(#cva)"><text x="4808.1" y="2072.2" fill="#131518" style="font-size:24px;letter-spacing:0.61px;">1.6 M</text><text x="4808.1" y="2158.0" fill="#131518" style="font-size:24px;letter-spacing:0.61px;">1.2 M</text><text x="4807.8" y="2243.6" fill="#131518" style="font-size:24px;letter-spacing:0.15px;">800 K</text><text x="4808.3" y="2329.4" fill="#131518" style="font-size:24px;letter-spacing:0.03px;">400 K</text></g><path d="M4792 2314.2H4916.5Q4920 2314.2 4920 2317.7V2344.5Q4920 2348 4916.5 2348H4792Z" fill="#e91e63"/><text x="4809.2" y="2339.6" fill="#fff" style="font-size:24px;letter-spacing:0.60px;">348.77 K</text><path d="M4792 2356H4916.5Q4920 2356 4920 2359.5V2386.5Q4920 2390 4916.5 2390H4792Z" fill="#2962ff"/><text x="4808.2" y="2381.6" fill="#fff" style="font-size:24px;letter-spacing:0.74px;">151.96 K</text><text x="38.6" y="2446.0" fill="#131518" style="font-size:24px;letter-spacing:1.68px;">12:15</text><text x="192.6" y="2446.0" fill="#131518" style="font-size:24px;letter-spacing:1.65px;">12:30</text><text x="346.6" y="2446.0" fill="#131518" style="font-size:24px;letter-spacing:1.68px;">12:45</text><text x="519.1" y="2446.0" fill="#131518" style="font-size:24.5px;letter-spacing:2.53px;font-weight:700;">17</text><text x="653.8" y="2446.0" fill="#131518" style="font-size:24px;letter-spacing:1.94px;">06:45</text><text x="807.8" y="2446.0" fill="#131518" style="font-size:24px;letter-spacing:1.91px;">07:00</text><text x="961.7" y="2446.0" fill="#131518" style="font-size:24px;letter-spacing:1.94px;">07:15</text><text x="1115.7" y="2446.0" fill="#131518" style="font-size:24px;letter-spacing:1.91px;">07:30</text><text x="1269.6" y="2446.0" fill="#131518" style="font-size:24px;letter-spacing:1.94px;">07:45</text><text x="1423.6" y="2446.0" fill="#131518" style="font-size:24px;letter-spacing:1.91px;">08:00</text><text x="1577.5" y="2446.0" fill="#131518" style="font-size:24px;letter-spacing:1.94px;">08:15</text><text x="1731.5" y="2446.0" fill="#131518" style="font-size:24px;letter-spacing:1.91px;">08:30</text><text x="1885.4" y="2446.0" fill="#131518" style="font-size:24px;letter-spacing:1.94px;">08:45</text><text x="2039.3" y="2446.0" fill="#131518" style="font-size:24px;letter-spacing:1.91px;">09:00</text><text x="2193.3" y="2446.0" fill="#131518" style="font-size:24px;letter-spacing:1.94px;">09:15</text><text x="2347.2" y="2446.0" fill="#131518" style="font-size:24px;letter-spacing:1.91px;">09:30</text><text x="2501.2" y="2446.0" fill="#131518" style="font-size:24px;letter-spacing:1.94px;">09:45</text><text x="2655.2" y="2446.0" fill="#131518" style="font-size:24px;letter-spacing:1.65px;">10:00</text><text x="2809.1" y="2446.0" fill="#131518" style="font-size:24px;letter-spacing:1.68px;">10:15</text><text x="2963.1" y="2446.0" fill="#131518" style="font-size:24px;letter-spacing:1.65px;">10:30</text><text x="3117.0" y="2446.0" fill="#131518" style="font-size:24px;letter-spacing:1.68px;">10:45</text><text x="3270.9" y="2446.0" fill="#131518" style="font-size:24px;letter-spacing:2.10px;">11:00</text><text x="3424.9" y="2446.0" fill="#131518" style="font-size:24px;letter-spacing:2.13px;">11:15</text><text x="3578.8" y="2446.0" fill="#131518" style="font-size:24px;letter-spacing:2.10px;">11:30</text><text x="3732.8" y="2446.0" fill="#131518" style="font-size:24px;letter-spacing:2.13px;">11:45</text><text x="3886.7" y="2446.0" fill="#131518" style="font-size:24px;letter-spacing:1.65px;">12:00</text><text x="4040.7" y="2446.0" fill="#131518" style="font-size:24px;letter-spacing:1.68px;">12:15</text><text x="4194.6" y="2446.0" fill="#131518" style="font-size:24px;letter-spacing:1.65px;">12:30</text><text x="4348.6" y="2446.0" fill="#131518" style="font-size:24px;letter-spacing:1.68px;">12:45</text><text x="4521.6" y="2446.0" fill="#131518" style="font-size:24.5px;letter-spacing:2.66px;font-weight:700;">18</text><text x="4656.2" y="2446.0" fill="#131518" style="font-size:24px;letter-spacing:1.94px;">06:45</text><g transform="translate(20.2,2484) scale(1.08)" fill="#131722"><path d="M14 22H7V11H0V4h14v18zM28 22h-8l7.5-18h8L28 22z"/><circle cx="20" cy="8" r="4"/></g><text x="67.1" y="2509.0" fill="#131518" style="font-size:26px;letter-spacing:0.47px;">TradingView</text></svg></body></html>
